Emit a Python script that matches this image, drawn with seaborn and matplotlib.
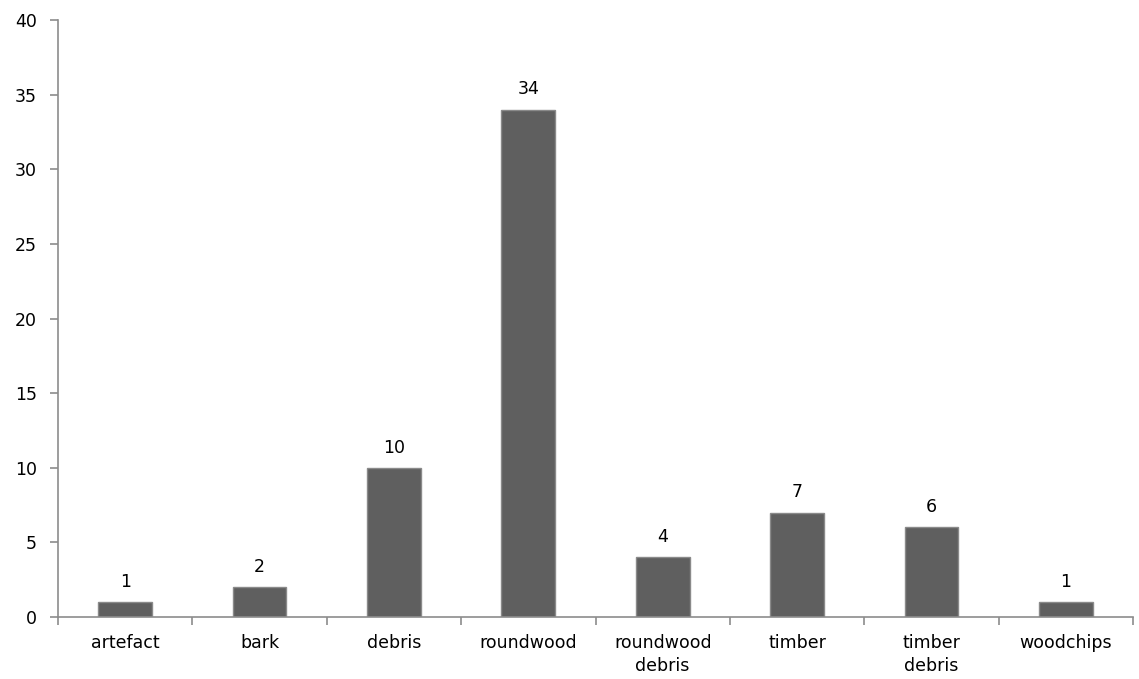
import matplotlib
matplotlib.use("Agg")
import matplotlib.pyplot as plt
import seaborn as sns
import numpy as np
import pandas as pd
from matplotlib.ticker import FixedLocator, NullFormatter

categories = ["artefact", "bark", "debris", "roundwood", "roundwood\ndebris",
              "timber", "timber\ndebris", "woodchips"]
counts = [1, 2, 10, 34, 4, 7, 6, 1]
y_ticks = [0, 5, 10, 15, 20, 25, 30, 35, 40]

sns.set_theme(style="white")
plt.rcParams["font.family"] = ["DejaVu Sans"]

df = pd.DataFrame({"category": categories, "count": counts})

fig = plt.figure(figsize=(11.39, 6.79), dpi=100)
ax = fig.add_axes([58 / 1139, 1 - 617 / 679, (1133 - 58) / 1139, (617 - 20) / 679])

sns.barplot(data=df, x="category", y="count", color="#5f5f5f", saturation=1,
            width=0.4, edgecolor="#8a8a8a", linewidth=1, ax=ax)

ax.set_xlim(-0.5, len(categories) - 0.5)
ax.set_ylim(0, 40)
ax.set_yticks(y_ticks)
ax.set_xlabel("")
ax.set_ylabel("")

for side in ["top", "right"]:
    ax.spines[side].set_visible(False)
for side in ["left", "bottom"]:
    ax.spines[side].set_color("#8c8c8c")
    ax.spines[side].set_linewidth(1.2)

# category separators as minor ticks on the x axis
ax.xaxis.set_minor_locator(FixedLocator(np.arange(-0.5, len(categories) + 0.5, 1)))
ax.xaxis.set_minor_formatter(NullFormatter())
ax.tick_params(axis="x", which="major", length=0, labelsize=12.5, pad=12, labelcolor="#000000")
ax.tick_params(axis="x", which="minor", length=6, width=1.2, color="#8c8c8c", bottom=True)
ax.tick_params(axis="y", which="major", length=6, width=1.2, color="#8c8c8c",
               labelsize=12.5, pad=9, left=True, labelcolor="#000000")
for lbl in ax.get_xticklabels():
    lbl.set_linespacing(1.4)

for container in ax.containers:
    ax.bar_label(container, labels=[str(v) for v in counts], padding=8,
                 fontsize=12.5, color="#000000")

fig.savefig("out.png", dpi=100)
